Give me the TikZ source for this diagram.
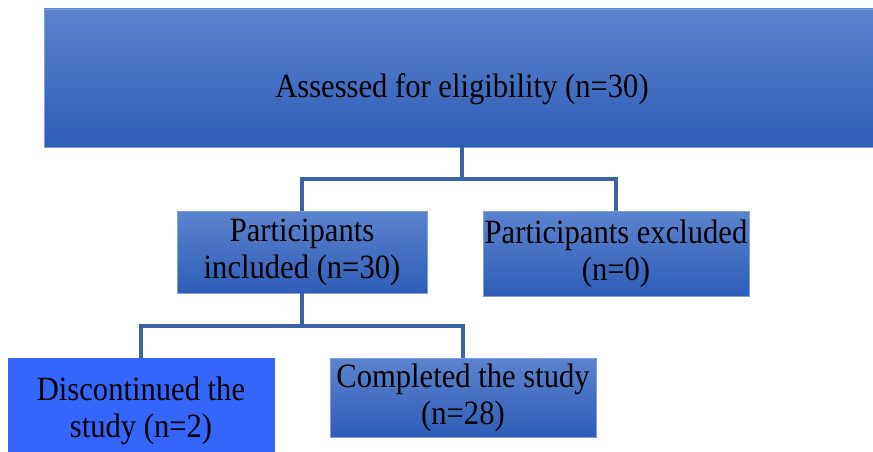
\documentclass[tikz,border=0pt]{standalone}
\usepackage{fontspec}
\setmainfont{Liberation Serif}[FakeStretch=0.9]
\definecolor{boxtop}{HTML}{5B84CF}
\definecolor{boxbot}{HTML}{2D5DB7}
\definecolor{boxedge}{HTML}{7E9FDC}
\definecolor{brightbox}{HTML}{3466FC}
\definecolor{linkblue}{HTML}{3C63A6}
\begin{document}
\begin{tikzpicture}[x=1pt,y=-1pt,
  flowbox/.style={draw=boxedge, line width=0.8pt, top color=boxtop, bottom color=boxbot,
    align=center, font=\fontsize{34}{37}\selectfont, inner sep=0pt},
  link/.style={draw=linkblue, line width=3.2pt}]
  \useasboundingbox (0,0) rectangle (873,452);
  \node[flowbox, minimum width=836, minimum height=138, text height=40pt, text depth=2pt] (assessed) at (462,78) {Assessed for eligibility (n=30)};
  \node[flowbox, minimum width=250, minimum height=82] (included) at (302,252) {Participants\\included (n=30)};
  \node[flowbox, minimum width=266, minimum height=85] (excluded) at (616,253.5) {Participants excluded\\(n=0)};
  \node[flowbox, top color=brightbox, bottom color=brightbox, draw=brightbox,
    minimum width=266, minimum height=106] (discont) at (141,411) {Discontinued the\\study (n=2)};
  \node[flowbox, minimum width=266, minimum height=79] (completed) at (463,397.5) {Completed the study\\(n=28)};
  % branch points
  \coordinate (split1) at (462,179);
  \coordinate (split2) at (302,326);
  \draw[link] (assessed.south) -- (split1);
  \draw[link] (included.north) |- (split1) -| (excluded.north);
  \draw[link] (included.south) -- (split2);
  \draw[link] (discont.north) |- (split2) -| (completed.north);
\end{tikzpicture}
\end{document}
